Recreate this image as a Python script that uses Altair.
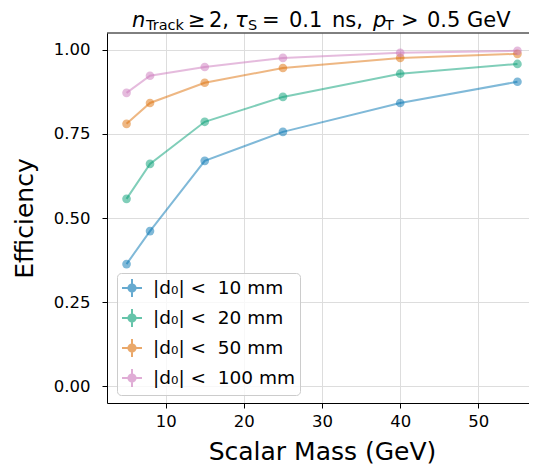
import altair as alt
import pandas as pd

# ---- data ----
masses = [5, 8, 15, 25, 40, 55]
series = ["|d₀| <\u00a0 10 mm", "|d₀| <\u00a0 20 mm", "|d₀| <\u00a0 50 mm", "|d₀| <\u00a0 100 mm"]
eff_10 = [0.363, 0.461, 0.670, 0.756, 0.842, 0.905]
eff_20 = [0.557, 0.661, 0.786, 0.860, 0.929, 0.958]
eff_50 = [0.780, 0.842, 0.902, 0.946, 0.976, 0.988]
eff_100 = [0.872, 0.923, 0.949, 0.976, 0.991, 0.997]
colors = ["#0173b2", "#029e73", "#dd7008", "#cc78bc"]
x_ticks = [10, 20, 30, 40, 50]
y_ticks = [0.0, 0.25, 0.5, 0.75, 1.0]

rows = []
for name, vals in zip(series, [eff_10, eff_20, eff_50, eff_100]):
    for m, v in zip(masses, vals):
        rows.append({"mass": m, "eff": v, "cut": name})
df = pd.DataFrame(rows)

FONT = "DejaVu Sans"
W, H = 422, 370
X_MAX = 2.5 + 55.0 * W / 430.0   # keep the reference's px-per-GeV; right edge is off-page there

legend_symbol = ("M-1,0L1,0M0,-0.9L0,0.9"
                 "M-0.36,0A0.36,0.36,0,1,0,0.36,0A0.36,0.36,0,1,0,-0.36,0Z")

x_enc = alt.X("mass:Q", title="Scalar Mass (GeV)",
              scale=alt.Scale(domain=[2.5, X_MAX], nice=False, zero=False),
              axis=alt.Axis(values=x_ticks, format="d", titleX=215))
y_enc = alt.Y("eff:Q", title="Efficiency",
              scale=alt.Scale(domain=[-0.05, 1.05], nice=False, zero=False),
              axis=alt.Axis(values=y_ticks, format=".2f"))
color_enc = alt.Color(
    "cut:N",
    scale=alt.Scale(domain=series, range=colors),
    sort=series,
    legend=alt.Legend(
        orient="none", legendX=10, legendY=240, title=None,
        symbolType=legend_symbol, symbolSize=400, symbolStrokeWidth=2,
        symbolOpacity=0.6, labelFontSize=18.5, labelFont=FONT, labelColor="black",
        rowPadding=4, padding=4, labelOffset=10,
        fillColor="rgba(255,255,255,0.8)", strokeColor="#cccccc", cornerRadius=4,
    ),
)

base = alt.Chart(df)
lines = base.mark_line(strokeWidth=2, opacity=0.5).encode(x=x_enc, y=y_enc, color=color_enc)
points = base.mark_point(filled=True, size=75, opacity=0.5).encode(x=x_enc, y=y_enc, color=color_enc)

# top spine of the frame
top_spine = alt.Chart(alt.InlineData(values=[{}])).mark_rule(
    color="black", strokeWidth=1
).encode(x=alt.value(0), x2=alt.value(W), y=alt.value(0))

# ---- title built from pieces (italics + subscripts) ----
title_parts = [
    ("n", 25, -6, 21, "italic"),
    ("Track", 39, -3, 14.5, "normal"),
    ("≥", 81, -6, 21, "normal"),
    ("2,", 102, -6, 21, "normal"),
    ("τ", 128, -6, 21, "italic"),
    ("S", 141, -3, 14.5, "normal"),
    ("=", 155, -6, 21, "normal"),
    ("0.1", 182, -6, 21, "normal"),
    ("ns,", 225, -6, 21, "normal"),
    ("p", 266, -6, 21, "italic"),
    ("T", 278, -3, 14.5, "normal"),
    (">", 294, -6, 21, "normal"),
    ("0.5", 320, -6, 21, "normal"),
    ("GeV", 360, -6, 21, "normal"),
]
title_layers = []
for txt, px, py, fs, style in title_parts:
    title_layers.append(
        alt.Chart(alt.InlineData(values=[{"t": txt}]))
        .mark_text(align="left", baseline="alphabetic", font=FONT, fontSize=fs,
                   fontStyle=style, color="black")
        .encode(text="t:N", x=alt.value(px), y=alt.value(py))
    )

chart = alt.layer(lines, points, top_spine, *title_layers).properties(
    width=W, height=H,
    autosize=alt.AutoSizeParams(type="none"),
    padding={"left": 99, "top": 25, "right": 0, "bottom": 63},
).configure_view(
    stroke="transparent", strokeWidth=0
).configure_axis(
    domain=True, domainColor="black", domainWidth=1,
    grid=True, gridColor="#dddddd", gridWidth=1,
    ticks=True, tickColor="black", tickSize=5, tickWidth=1,
    labelFont=FONT, labelFontSize=16.5, labelColor="black",
    titleFont=FONT, titleFontSize=25, titleFontWeight="normal", titleColor="black",
).configure_axisX(
    labelPadding=5, titlePadding=10,
).configure_axisY(
    labelPadding=12, titlePadding=16,
)

chart.save("out.html", embed_options={"renderer": "svg", "actions": False})
